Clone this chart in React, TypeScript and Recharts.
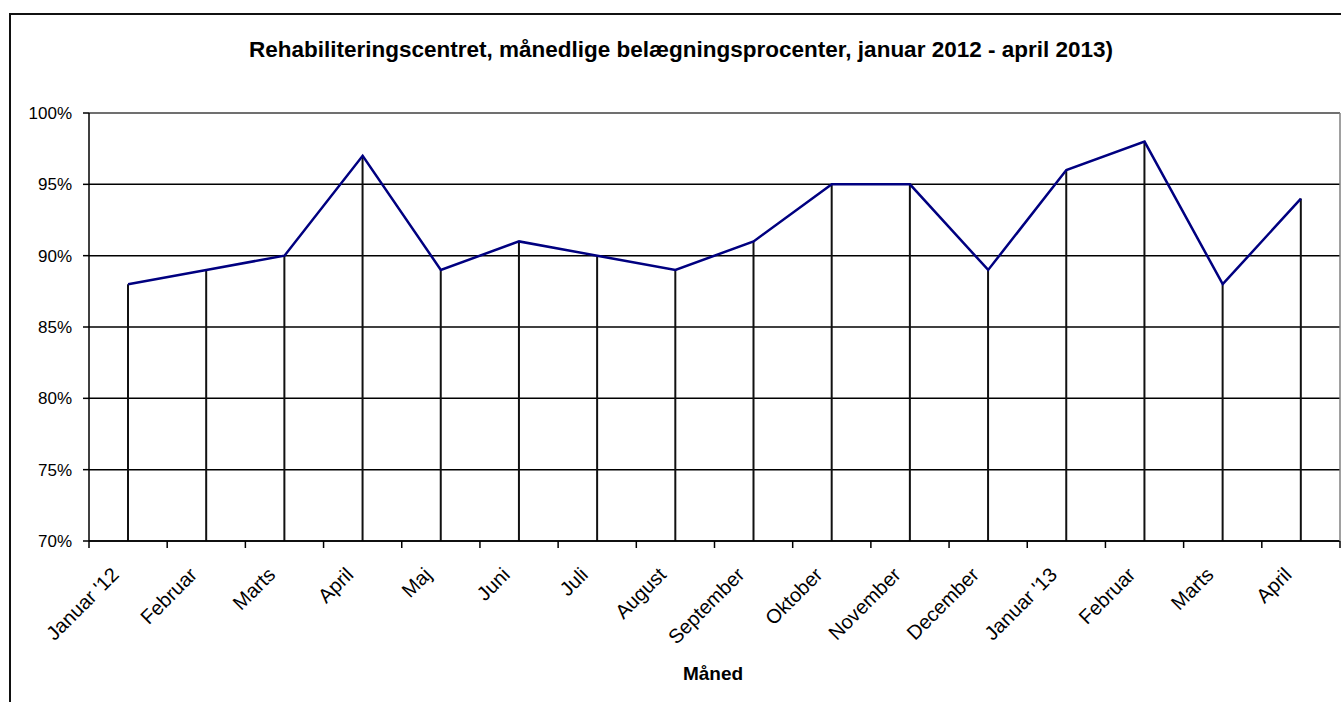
import { Bar, CartesianGrid, ComposedChart, Line, ReferenceLine, XAxis, YAxis } from 'recharts';

const months = [
  "Januar '12", 'Februar', 'Marts', 'April', 'Maj', 'Juni', 'Juli', 'August',
  'September', 'Oktober', 'November', 'December', "Januar '13", 'Februar', 'Marts', 'April',
];
const occupancy = [88, 89, 90, 97, 89, 91, 90, 89, 91, 95, 95, 89, 96, 98, 88, 94];
const yTicks = [70, 75, 80, 85, 90, 95, 100];

const data = months.map((month, i) => ({ key: `${i}`, month, value: occupancy[i] }));

const W = 1341;
const H = 702;
const PLOT_LEFT = 89;
const PLOT_RIGHT = 1340;
const BAND = (PLOT_RIGHT - PLOT_LEFT) / months.length;
const FONT = '"Liberation Sans", Arial, sans-serif';

const MonthTick = (props: any) => {
  const { x, y, payload, index } = props;
  const axisY = y - 8;
  const label = months[Number(payload.value)];
  return (
    <g>
      <line x1={x - BAND / 2} x2={x - BAND / 2} y1={axisY} y2={axisY + 7} stroke="#000" strokeWidth={1.5} />
      {index === months.length - 1 && (
        <line x1={x + BAND / 2} x2={x + BAND / 2} y1={axisY} y2={axisY + 7} stroke="#000" strokeWidth={1.5} />
      )}
      <text
        x={x - 8}
        y={y + 27}
        textAnchor="end"
        transform={`rotate(-45, ${x - 8}, ${y + 27})`}
        fontSize={20}
        fontFamily={FONT}
        fill="#000"
      >
        {label}
      </text>
    </g>
  );
};

export default function App() {
  return (
    <div style={{ position: 'absolute', left: 0, top: 0, width: W, height: H, overflow: 'hidden', background: '#fff' }}>
      <div style={{ position: 'absolute', left: 9, top: 13, width: 1400, height: 800, border: '2px solid #111' }} />
      <div
        style={{
          position: 'absolute', left: 0, top: 39, width: 1362, textAlign: 'center',
          fontFamily: FONT, fontWeight: 'bold', fontSize: 22.5, lineHeight: '22.5px', color: '#000',
        }}
      >
        Rehabiliteringscentret, månedlige belægningsprocenter, januar 2012 - april 2013)
      </div>
      <div
        style={{
          position: 'absolute', left: 613, top: 664, width: 200, textAlign: 'center',
          fontFamily: FONT, fontWeight: 'bold', fontSize: 19, lineHeight: '19px', color: '#000',
        }}
      >
        Måned
      </div>
      <div style={{ position: 'absolute', left: 0, top: 0 }}>
        <ComposedChart width={W} height={H} data={data} margin={{ top: 113, right: 0, left: 0, bottom: 0 }}>
          <CartesianGrid vertical={false} stroke="#000" strokeWidth={1.5} yAxisId="left" />
          <XAxis
            dataKey="key"
            height={161}
            tickLine={false}
            axisLine={{ stroke: '#000', strokeWidth: 1.5 }}
            tick={<MonthTick />}
            interval={0}
          />
          <YAxis
            yAxisId="left"
            width={89}
            domain={[70, 100]}
            ticks={yTicks}
            allowDataOverflow
            tickFormatter={(v) => `${v}%`}
            tickSize={6}
            tickMargin={11}
            axisLine={{ stroke: '#000', strokeWidth: 1.5 }}
            tickLine={{ stroke: '#000', strokeWidth: 1.5 }}
            tick={{ fill: '#000', fontSize: 17, fontFamily: FONT }}
          />
          <YAxis
            yAxisId="right"
            orientation="right"
            width={1}
            tick={false}
            tickLine={false}
            axisLine={{ stroke: '#808080', strokeWidth: 1.5 }}
          />
          <ReferenceLine yAxisId="left" y={100} stroke="#808080" strokeWidth={1.5} />
          <Bar yAxisId="left" dataKey="value" barSize={2} fill="#111" isAnimationActive={false} />
          <Line
            yAxisId="left"
            type="linear"
            dataKey="value"
            stroke="#000080"
            strokeWidth={2.5}
            dot={false}
            activeDot={false}
            isAnimationActive={false}
          />
        </ComposedChart>
      </div>
    </div>
  );
}
